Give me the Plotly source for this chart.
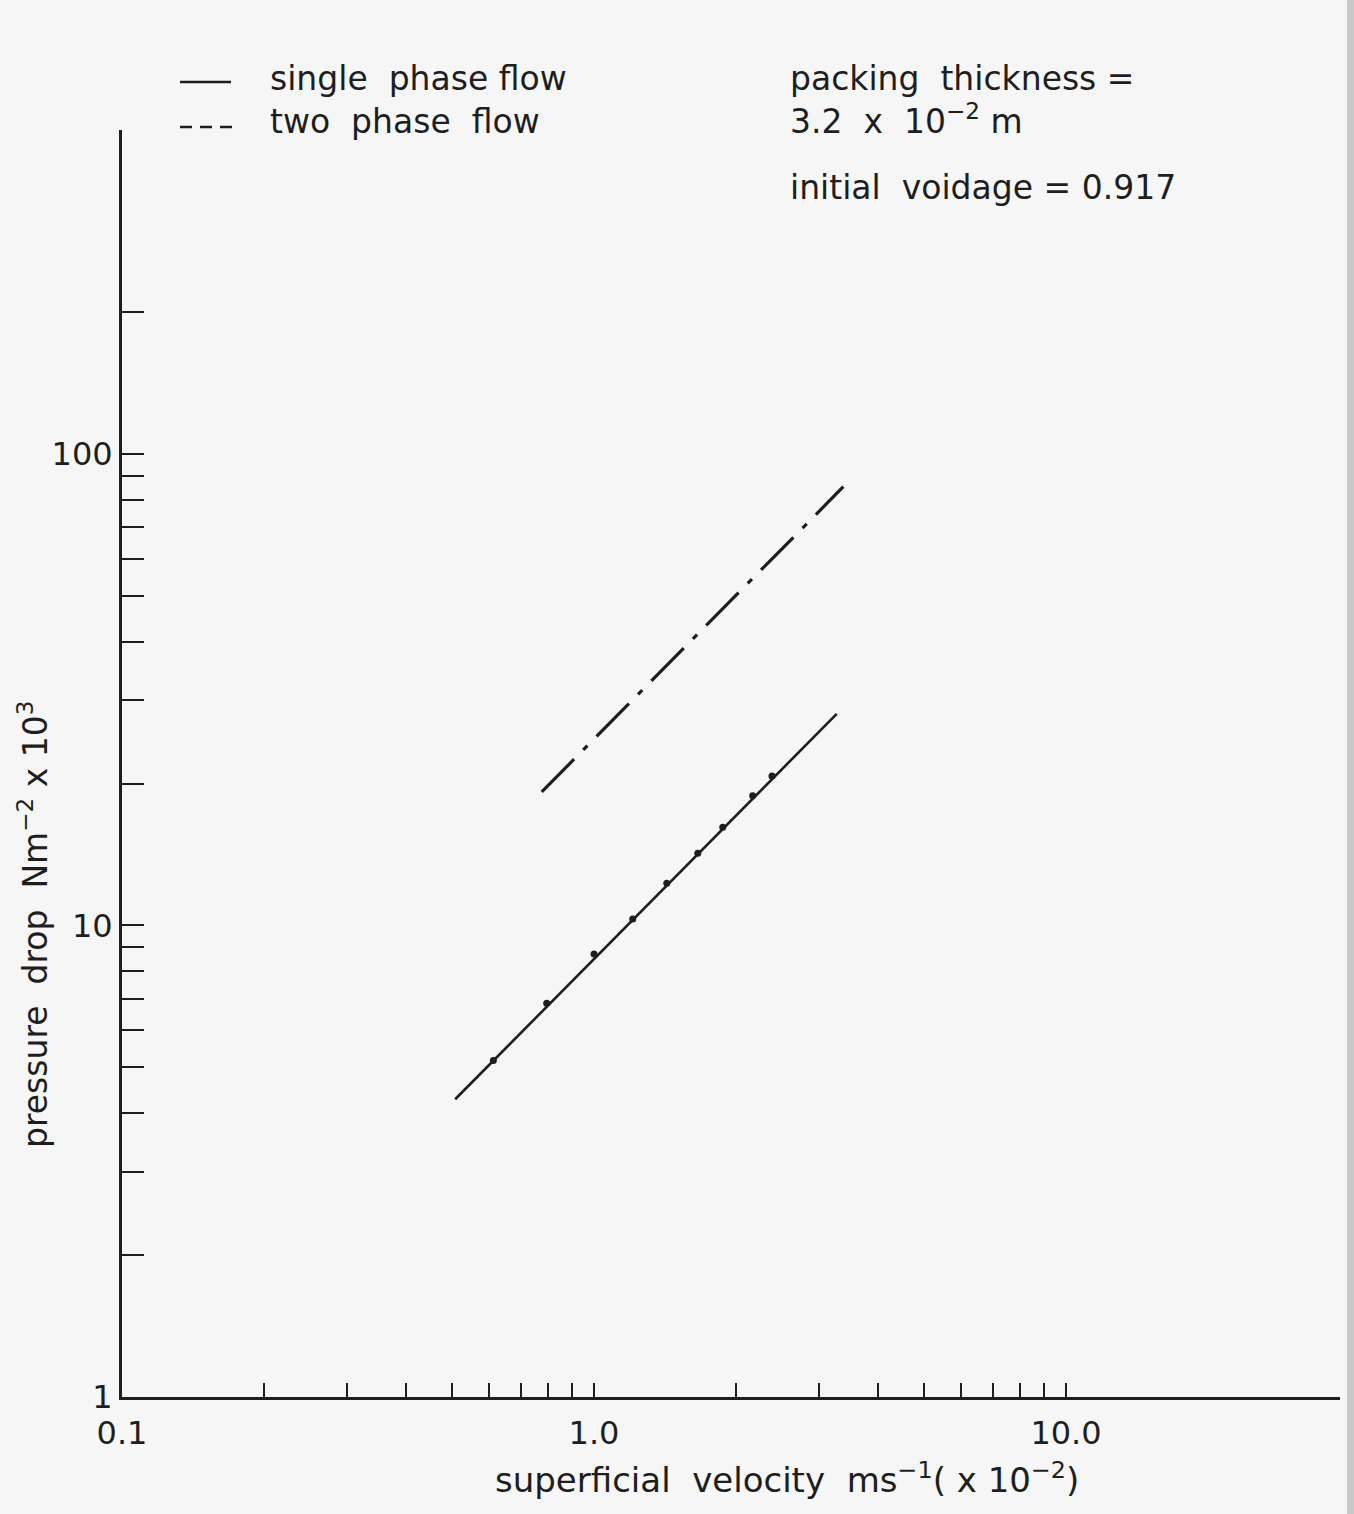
import plotly.graph_objects as go

# ---- data ----
single_fit_v = [0.508, 3.268]
single_fit_dp = [4.28, 28.1]
single_pts_v = [0.612, 0.794, 1.00, 1.208, 1.426, 1.659, 1.874, 2.169, 2.383]
single_pts_dp = [5.17, 6.84, 8.70, 10.32, 12.29, 14.23, 16.15, 18.85, 20.76]
two_fit_v = [0.775, 3.375]
two_fit_dp = [19.2, 85.2]

x_tickvals = [0.1, 0.2, 0.3, 0.4, 0.5, 0.6, 0.7, 0.8, 0.9, 1, 2, 3, 4, 5, 6, 7, 8, 9, 10]
x_ticktext = ["0.1"] + [""] * 8 + ["1.0"] + [""] * 8 + ["10.0"]
y_tickvals = [1, 2, 3, 4, 5, 6, 7, 8, 9, 10, 20, 30, 40, 50, 60, 70, 80, 90, 100, 200]
y_ticktext = ["1"] + [""] * 8 + ["10"] + [""] * 8 + ["100", ""]

# ---- layout geometry ----
W, H = 1354, 1514
L, R, T, B = 122, 1340, 130, 1397
INK = "#1e1e1e"
FONT = "DejaVu Sans"


def px(x):
    return (x - L) / (R - L)


def py(y):
    return (B - y) / (B - T)


fig = go.Figure()
fig.add_trace(go.Scatter(x=single_fit_v, y=single_fit_dp, mode="lines",
                         line=dict(color=INK, width=2.6), showlegend=False))
fig.add_trace(go.Scatter(x=single_pts_v, y=single_pts_dp, mode="markers",
                         marker=dict(color=INK, size=7), showlegend=False))
fig.add_trace(go.Scatter(x=two_fit_v, y=two_fit_dp, mode="lines",
                         line=dict(color=INK, width=3.2, dash="46px,13px,6px,13px"),
                         showlegend=False))

axis_common = dict(type="log", showline=True, linecolor=INK, linewidth=3,
                   ticks="inside", tickcolor=INK, tickwidth=2.2,
                   showgrid=False, zeroline=False, mirror=False,
                   tickfont=dict(family=FONT, size=32, color=INK))

fig.update_xaxes(**axis_common, range=[-1, 1.5805], tickmode="array",
                 tickvals=x_tickvals, ticktext=x_ticktext, ticklen=14,
                 ticklabelstandoff=6)
fig.update_yaxes(**axis_common, range=[0, 2.687], tickmode="array",
                 tickvals=y_tickvals, ticktext=y_ticktext, ticklen=22,
                 ticklabelstandoff=0)

annotations = []


def text(x, y, s, size=33, xanchor="left", angle=0):
    annotations.append(dict(x=px(x), y=py(y), xref="paper", yref="paper",
                            text=s, showarrow=False, xanchor=xanchor,
                            yanchor="middle", textangle=angle,
                            font=dict(family=FONT, size=size, color=INK)))


text(268, 78, "single  phase flow")
text(268, 121, "two  phase  flow")
text(788, 78, "packing  thickness =")
text(788, 120, "3.2  x  10<sup>−2</sup> m")
text(788, 187, "initial  voidage = 0.917")
text(787, 1478, "superficial  velocity  ms<sup>−1</sup>( x 10<sup>−2</sup>)",
     size=34, xanchor="center")
text(33, 924, "pressure  drop  Nm<sup>−2</sup> x 10<sup>3</sup>", size=33,
     xanchor="center", angle=-90)

shapes = [
    dict(type="line", xref="paper", yref="paper", x0=px(180), x1=px(231),
         y0=py(82), y1=py(82), line=dict(color=INK, width=2.5)),
    dict(type="line", xref="paper", yref="paper", x0=px(180), x1=px(233),
         y0=py(127), y1=py(127), line=dict(color=INK, width=2.5, dash="12px,8px")),
    dict(type="rect", xref="paper", yref="paper", x0=px(1347), x1=px(1354),
         y0=py(1514), y1=py(0), line=dict(width=0), fillcolor="#c9c9c9",
         layer="below"),
]

fig.update_layout(width=W, height=H,
                  margin=dict(l=L, r=W - R, t=T, b=H - B, pad=0),
                  paper_bgcolor="#f6f6f6", plot_bgcolor="rgba(0,0,0,0)",
                  annotations=annotations, shapes=shapes, showlegend=False)

fig.write_html("out.html")
